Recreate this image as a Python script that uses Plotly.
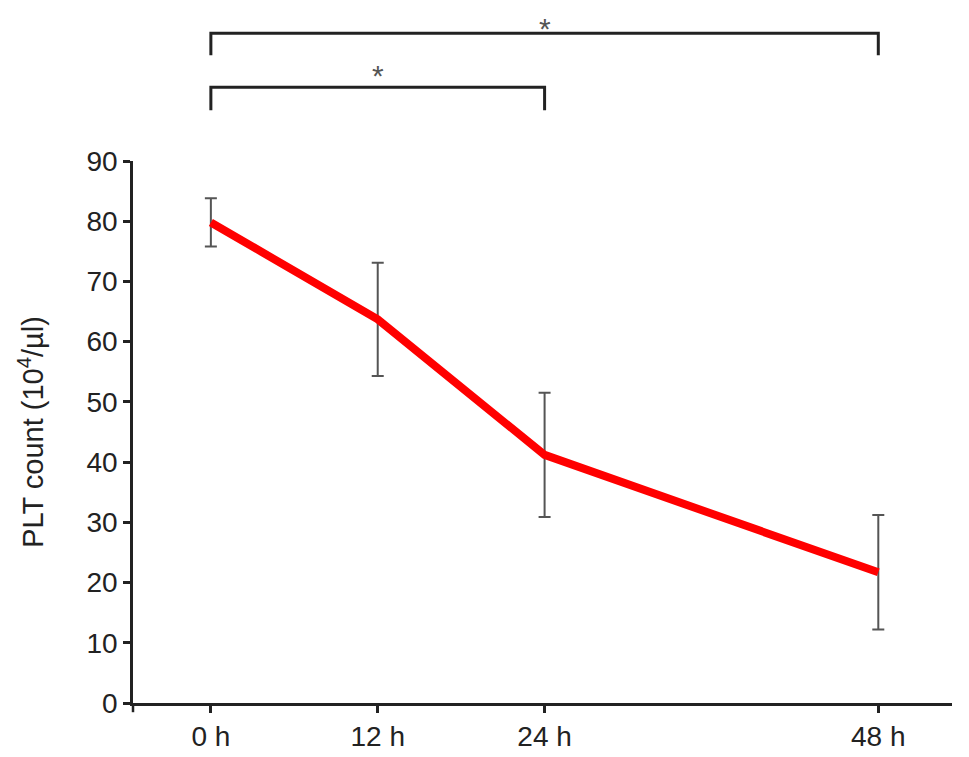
import plotly.graph_objects as go

hours = [0, 12, 24, 48]
tick_labels = ["0 h", "12 h", "24 h", "48 h"]
plt_mean = [79.8, 63.7, 41.2, 21.7]
plt_err = [4.0, 9.4, 10.3, 9.5]
y_ticks = [0, 10, 20, 30, 40, 50, 60, 70, 80, 90]

fig = go.Figure()
fig.add_trace(go.Scatter(
    x=hours, y=plt_mean, mode="lines",
    line=dict(color="#ff0000", width=8),
    error_y=dict(type="data", array=plt_err, visible=True,
                 color="#555555", thickness=2, width=6),
    showlegend=False,
))

# significance brackets
def bracket(x0, x1, ytop, ybot):
    return dict(type="path", xref="x", yref="paper",
                path=f"M {x0},{ybot} L {x0},{ytop} L {x1},{ytop} L {x1},{ybot}",
                line=dict(color="#222222", width=3))

fig.add_shape(bracket(hours[0], hours[3], 1.2356, 1.195))
fig.add_shape(bracket(hours[0], hours[2], 1.136, 1.0935))
fig.add_annotation(x=24, y=1.245, xref="x", yref="paper", text="*", showarrow=False,
                   font=dict(size=30, color="#555555", family="Liberation Sans"), yanchor="middle")
fig.add_annotation(x=12, y=1.158, xref="x", yref="paper", text="*", showarrow=False,
                   font=dict(size=30, color="#555555", family="Liberation Sans"), yanchor="middle")
# y-axis line extends slightly below the x axis
fig.add_shape(type="line", xref="paper", yref="paper", x0=0, x1=0, y0=0, y1=-0.017,
              line=dict(color="#222222", width=2.5))

fig.update_layout(
    width=969, height=757,
    margin=dict(l=125, r=25, t=153, b=62),
    plot_bgcolor="white", paper_bgcolor="white",
    font=dict(family="Liberation Sans, Arial, sans-serif", size=28, color="#222222"),
    xaxis=dict(range=[-5.6, 53.3], tickvals=hours, ticktext=tick_labels,
               showline=True, linecolor="#222222", linewidth=2.5,
               ticks="outside", ticklen=7, tickwidth=2.5, tickcolor="#222222",
               showgrid=False, zeroline=False),
    yaxis=dict(range=[0, 90], tickvals=y_ticks,
               showline=True, linecolor="#222222", linewidth=2.5,
               ticks="outside", ticklen=7, tickwidth=2.5, tickcolor="#222222",
               showgrid=False, zeroline=False,
               title=dict(text="PLT count (10<sup>4</sup>/µl)", standoff=35,
                          font=dict(size=29))),
)

fig.write_html("out.html")
